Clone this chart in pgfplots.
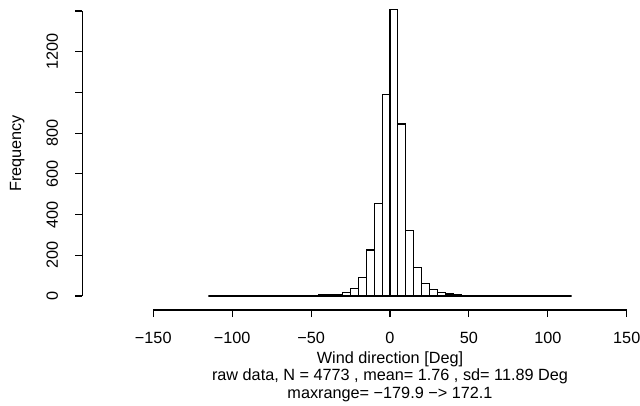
\documentclass[border=0pt]{standalone}
\usepackage{fontspec}
\setmainfont{Liberation Sans}
\usepackage{pgfplots}
\pgfplotsset{compat=1.18}
\begin{document}
\begin{tikzpicture}
\begin{axis}[
  at={(0,0)}, anchor=south west,
  x=1.578bp, y=0.2036bp,
  xmin=-150, xmax=150, ymin=0, ymax=1400,
  clip=false,
  separate axis lines,
  axis x line=none, axis y line*=left,
  axis y line shift=71bp,
  axis line style={-, line width=1.1bp, black},
  font=\fontsize{16.3}{18}\selectfont,
  tick align=outside,
  major tick length=7bp,
  tick style={line width=1.1bp, black},
  ytick={0,200,400,600,800,1000,1200,1400},
  yticklabels={0,200,400,600,800,,1200,},
  yticklabel style={xshift=-17bp, rotate=90, anchor=south, inner sep=0pt},
]
\addplot[ybar interval, fill=white, draw=black, line width=1.1bp] coordinates {
(-115,0) (-110,0) (-105,0) (-100,0) (-95,0) (-90,1) (-85,0) (-80,1) (-75,0) (-70,1)
(-65,0) (-60,1) (-55,1) (-50,3) (-45,5) (-40,5) (-35,7) (-30,19) (-25,35) (-20,93)
(-15,226) (-10,455) (-5,991) (0,1405) (5,845) (10,324) (15,139) (20,62) (25,33) (30,19)
(35,10) (40,7) (45,4) (50,1) (55,3) (60,2) (65,2) (70,1) (75,0) (80,1)
(85,1) (90,1) (95,0) (100,2) (105,1) (110,0) (115,0)
};
\node[align=center, anchor=north, inner sep=0pt, yshift=-55bp] at (axis cs:0,0)
  {Wind direction [Deg]\\raw data, N = 4773 , mean= 1.76 , sd= 11.89 Deg\\maxrange= −179.9 −> 172.1};
\node[rotate=90, anchor=center, inner sep=0pt] at (axis description cs:-0.2874,0.5) {Frequency};
\coordinate (bl) at (axis cs:-247.1,-535.4);
\coordinate (tr) at (axis cs:158.4,1453.8);
\end{axis}
\begin{axis}[
  at={(0,-14bp)}, anchor=south west,
  x=1.578bp, y=1bp,
  xmin=-150, xmax=150, ymin=-0.01, ymax=1,
  clip=false,
  axis x line*=bottom, axis y line=none,
  axis line style={-, line width=1.1bp, black},
  font=\fontsize{16.3}{18}\selectfont,
  tick align=outside,
  major tick length=7bp,
  tick style={line width=1.1bp, black},
  xtick={-150,-100,-50,0,50,100,150},
  xticklabels={−150,−100,−50,0,50,100,150},
  xticklabel style={anchor=north, inner sep=0pt, yshift=-15bp},
]
\addplot[black, line width=1.1bp, line cap=rect] coordinates {(-150,0) (150,0)};
\end{axis}
\pgfresetboundingbox
\path[use as bounding box] (bl) rectangle (tr);
\end{tikzpicture}
\end{document}
